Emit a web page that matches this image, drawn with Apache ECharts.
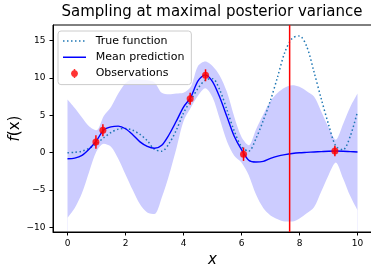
<!DOCTYPE html>
<html>
<head>
<meta charset="utf-8">
<script src="https://cdn.jsdelivr.net/npm/echarts@6/dist/echarts.min.js"></script>
<style>html,body{margin:0;padding:0;background:#fff}#main{width:371px;height:264px}</style>
</head>
<body>
<div id="main"></div>
<script>
// grid of x positions (step 0.25)
var xs = [0, 0.25, 0.5, 0.75, 1, 1.25, 1.5, 1.75, 2, 2.25, 2.5, 2.75, 3, 3.25, 3.5, 3.75, 4, 4.25, 4.5, 4.75,
          5, 5.25, 5.5, 5.75, 6, 6.25, 6.5, 6.75, 7, 7.25, 7.5, 7.75, 8, 8.25, 8.5, 8.75, 9, 9.25, 9.5, 9.75, 10];
var trueF = [0.0, 0.05, 0.2, 0.6, 1.2, 2.0, 2.7, 3.15, 3.25, 3.0, 2.45, 1.6, 0.45, 0.2, 1.2, 3.0, 5.3, 7.0, 8.6, 9.7,
             9.9, 8.4, 5.7, 2.9, 0.8, 0.2, 1.9, 4.3, 7.0, 10.2, 13.5, 15.3, 15.6, 14.2, 10.8, 7.2, 3.8, 0.9, 0.4, 2.2, 5.5];
var meanPred = [-0.8, -0.72, -0.35, 0.5, 1.6, 3.05, 3.45, 3.55, 3.2, 2.4, 1.45, 0.85, 0.6, 1.0, 2.4, 4.2, 6.1, 7.4, 9.6, 10.4,
                9.5, 7.4, 4.8, 2.2, 0.4, -1.0, -1.25, -1.15, -0.75, -0.45, -0.25, -0.1, 0.0, 0.05, 0.1, 0.15, 0.2, 0.22, 0.2, 0.15, 0.1];
var bandLow = [-8.7, -7.4, -5.4, -2.5, 0.2, 1.2, 0.8, -0.8, -2.9, -5.0, -6.9, -8.0, -8.2, -6.0, -3.0, 0.5, 4.2, 6.0, 7.6, 8.6,
               7.4, 4.5, 1.5, -0.4, -1.3, -3.0, -5.6, -7.4, -8.4, -8.9, -9.2, -9.2, -8.8, -8.1, -7.3, -5.2, -3.0, -1.3, -3.4, -5.8, -7.7];
var bandHigh = [7.1, 5.96, 4.7, 3.5, 3.0, 4.9, 6.1, 7.9, 9.3, 9.8, 9.8, 9.7, 9.4, 8.0, 7.8, 7.9, 8.0, 8.8, 11.6, 12.2,
                11.6, 10.3, 8.1, 4.8, 2.1, 1.0, 3.1, 5.1, 6.9, 8.0, 8.7, 9.0, 8.8, 8.2, 7.5, 5.5, 3.4, 1.74, 3.8, 6.1, 7.9];
var obsX = [0.98, 1.22, 4.23, 4.76, 6.07, 9.22];
var obsY = [1.43, 3.0, 7.2, 10.35, -0.2, 0.23];
var obsErr = [0.9, 0.8, 0.8, 0.8, 0.9, 0.7];
var xTicks = [0, 2, 4, 6, 8, 10];
var yTicks = [-10, -5, 0, 5, 10, 15];
var sampleX = 7.66;
var yMin = -10.6, yMax = 17.07;

var font = 'DejaVu Sans';
var chart = echarts.init(document.getElementById('main'));

function pairs(arr) {
    return xs.map(function (x, i) { return [x, arr[i]]; });
}
var errData = obsX.map(function (x, i) { return [x, obsY[i] - obsErr[i], obsY[i] + obsErr[i]]; });

// legend icons in a 23x14 box (tiny specks at the corners fix the box)
var corners = 'M0,0h0.01v0.01h-0.01z M22.99,13.99h0.01v0.01h-0.01z ';
var iconDotted = 'path://' + corners + 'M0,6.25h1.5v1.5h-1.5z M4,6.25h1.5v1.5h-1.5z M8,6.25h1.5v1.5h-1.5z M12,6.25h1.5v1.5h-1.5z M16,6.25h1.5v1.5h-1.5z M20,6.25h1.5v1.5h-1.5z';
var iconSolid = 'path://' + corners + 'M0,6.25h23v1.5h-23z';
var iconObs = 'path://' + corners + 'M10.75,2.5h1.5v9h-1.5z ' +
    'M15,7L14.53,8.75L13.25,10.03L11.5,10.5L9.75,10.03L8.47,8.75L8,7L8.47,5.25L9.75,3.97L11.5,3.5L13.25,3.97L14.53,5.25z';

var option = {
    animation: false,
    title: {
        text: 'Sampling at maximal posterior variance',
        left: 212, top: 5, padding: 0, textAlign: 'center',
        textStyle: { fontFamily: font, fontSize: 15, fontWeight: 'normal', color: '#000' }
    },
    legend: {
        orient: 'vertical', left: 58, top: 31,
        padding: [3, 7, 4, 5], itemGap: 2.3,
        itemWidth: 23, itemHeight: 14,
        backgroundColor: 'rgba(255,255,255,0.8)',
        borderColor: '#cccccc', borderWidth: 1, borderRadius: 3,
        textStyle: { fontFamily: font, fontSize: 11, color: '#000', padding: [0, 0, 0, 4.7] },
        data: [
            { name: 'True function', icon: iconDotted, itemStyle: { color: '#1f77b4' } },
            { name: 'Mean prediction', icon: iconSolid, itemStyle: { color: '#0000ff' } },
            { name: 'Observations', icon: iconObs, itemStyle: { color: 'red' } }
        ]
    },
    grid: {
        left: 53, right: -1, top: 25, bottom: 32,
        containLabel: false, outerBoundsMode: 'none',
        show: true, borderColor: '#000', borderWidth: 1
    },
    xAxis: {
        type: 'value', min: -0.5, max: 10.5,
        axisLine: { show: true, onZero: false, lineStyle: { color: '#000', width: 1 } },
        axisTick: { show: true, length: 3.5, customValues: xTicks, lineStyle: { color: '#000' } },
        axisLabel: { customValues: xTicks, fontFamily: font, fontSize: 9, color: '#000', margin: 7 },
        splitLine: { show: false },
        name: 'x', nameLocation: 'middle', nameGap: 20,
        nameTextStyle: { fontFamily: font, fontStyle: 'italic', fontSize: 15, color: '#000' }
    },
    yAxis: {
        type: 'value', min: yMin, max: yMax,
        axisLine: { show: true, onZero: false, lineStyle: { color: '#000', width: 1 } },
        axisTick: { show: true, length: 3.5, customValues: yTicks, lineStyle: { color: '#000' } },
        axisLabel: {
            customValues: yTicks, fontFamily: font, fontSize: 9, color: '#000', margin: 7.5,
            formatter: function (v) { return String(v).replace('-', '\u2212'); }
        },
        splitLine: { show: false },
        name: '{i|f}(x)', nameLocation: 'middle', nameGap: 30, nameMoveOverlap: false,
        nameTextStyle: {
            fontFamily: font, fontSize: 15, color: '#000',
            rich: { i: { fontFamily: font, fontStyle: 'italic', fontSize: 15, color: '#000' } }
        }
    },
    series: [
        {   // upper edge of the band, filled down to the axis
            type: 'line', name: 'band-high', data: pairs(bandHigh), symbol: 'none', smooth: 0.3,
            lineStyle: { width: 0, opacity: 0 }, silent: true, z: -1,
            areaStyle: { color: '#ccccff', opacity: 1, origin: 'start' }
        },
        {   // lower edge: white fill clears the part below the band
            type: 'line', name: 'band-low', data: pairs(bandLow), symbol: 'none', smooth: 0.3,
            lineStyle: { width: 0, opacity: 0 }, silent: true, z: -1,
            areaStyle: { color: '#ffffff', opacity: 1, origin: 'start' }
        },
        {
            type: 'line', name: 'True function', data: pairs(trueF), symbol: 'none', smooth: 0.3, z: 3,
            itemStyle: { color: '#1f77b4' },
            lineStyle: { color: '#1f77b4', width: 1.5, type: [1.5, 2.5] }
        },
        {
            type: 'line', name: 'Mean prediction', data: pairs(meanPred), symbol: 'none', smooth: 0.3, z: 4,
            itemStyle: { color: '#0000ff' },
            lineStyle: { color: '#0000ff', width: 1.4 }
        },
        {
            type: 'line', name: 'sample', data: [[sampleX, yMin], [sampleX, yMax]], symbol: 'none', z: 5,
            itemStyle: { color: '#ff0000' }, lineStyle: { color: '#ff0000', width: 1.5 }, silent: true
        },
        {
            type: 'scatter', name: 'Observations', data: obsX.map(function (x, i) { return [x, obsY[i]]; }),
            symbolSize: 7, itemStyle: { color: 'red' }, z: 7
        },
        {
            type: 'custom', name: 'Observations', data: errData, z: 6,
            encode: { x: 0, y: [1, 2] },
            renderItem: function (params, api) {
                var a = api.coord([api.value(0), api.value(1)]);
                var b = api.coord([api.value(0), api.value(2)]);
                return { type: 'line', shape: { x1: a[0], y1: a[1], x2: b[0], y2: b[1] }, style: { stroke: 'red', lineWidth: 1.5 } };
            }
        }
    ]
};
chart.setOption(option);
</script>
</body>
</html>
